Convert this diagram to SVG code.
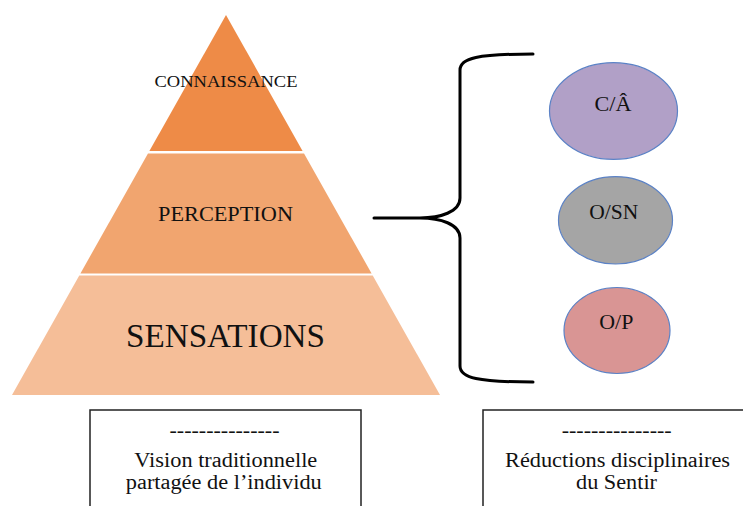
<svg xmlns="http://www.w3.org/2000/svg" width="743" height="506" viewBox="0 0 743 506">
<style>
text{font-family:"Liberation Serif","Times New Roman",serif;fill:#111;text-anchor:middle}
.oval{stroke:#5B82C6;stroke-width:1.2}
.box{fill:#fff;stroke:#222;stroke-width:1.5}
.boxtext{font-size:20px}
.brace{fill:none;stroke:#000;stroke-width:3;stroke-linecap:round;stroke-linejoin:round}
</style>
<rect width="743" height="506" fill="#fff"/>
<g id="tier-connaissance">
<polygon points="226,15 302.6,151 149.4,151" fill="#EE8B47"/>
<text x="226" y="87" font-size="17" textLength="143" lengthAdjust="spacingAndGlyphs">CONNAISSANCE</text>
</g>
<g id="tier-perception">
<polygon points="148,153.5 304,153.5 371.6,273.5 80.4,273.5" fill="#F1A56F"/>
<text x="225.5" y="220.5" font-size="22" textLength="135" lengthAdjust="spacingAndGlyphs">PERCEPTION</text>
</g>
<g id="tier-sensations">
<polygon points="79.3,275.5 372.7,275.5 440,395 12,395" fill="#F5BE98"/>
<text x="225.5" y="346.7" font-size="33" textLength="199" lengthAdjust="spacingAndGlyphs">SENSATIONS</text>
</g>
<g id="connectors">
<path class="brace" d="M533,54 C478,54 460,58 460,70 L460,198 C460,212 440,218 420,218 L374,218 M420,218 C440,218 460,224 460,238 L460,366 C460,378 478,382 533,382"/>
</g>
<g id="node-ca">
<ellipse class="oval" cx="613.5" cy="111" rx="64" ry="48.3" fill="#B1A0C7"/>
<text x="613" y="110.7" font-size="20" textLength="37" lengthAdjust="spacingAndGlyphs">C/Â</text>
</g>
<g id="node-osn">
<ellipse class="oval" cx="615.5" cy="220.3" rx="57" ry="43.7" fill="#A5A5A5"/>
<text x="613.8" y="219.3" font-size="20" textLength="49" lengthAdjust="spacingAndGlyphs">O/SN</text>
</g>
<g id="node-op">
<ellipse class="oval" cx="617" cy="330.5" rx="53" ry="43" fill="#D99594"/>
<text x="616.3" y="329.3" font-size="20" textLength="34" lengthAdjust="spacingAndGlyphs">O/P</text>
</g>
<g id="box-left">
<rect class="box" x="90" y="410" width="271" height="120"/>
<text class="boxtext" x="224.5" y="437" textLength="110" lengthAdjust="spacingAndGlyphs">---------------</text>
<text class="boxtext" x="225.8" y="467" textLength="183" lengthAdjust="spacingAndGlyphs">Vision traditionnelle</text>
<text class="boxtext" x="223.8" y="489" textLength="196" lengthAdjust="spacingAndGlyphs">partagée de l’individu</text>
</g>
<g id="box-right">
<rect class="box" x="483" y="410" width="300" height="120"/>
<text class="boxtext" x="616.7" y="437" textLength="110" lengthAdjust="spacingAndGlyphs">---------------</text>
<text class="boxtext" x="617.5" y="467" textLength="225" lengthAdjust="spacingAndGlyphs">Réductions disciplinaires</text>
<text class="boxtext" x="616.5" y="489" textLength="81" lengthAdjust="spacingAndGlyphs">du Sentir</text>
</g>
</svg>
